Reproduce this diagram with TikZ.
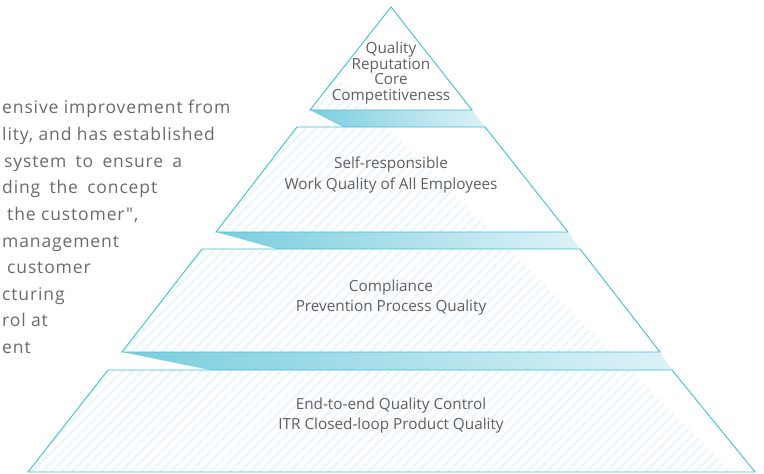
\documentclass[tikz,border=0pt]{standalone}
\usepackage{fontspec}
\setmainfont{Open Sans}
\newfontfamily\introfont[LetterSpace=5]{Open Sans}
\usetikzlibrary{patterns.meta}
\definecolor{edgecyan}{HTML}{3DBFD8}
\definecolor{banddark}{HTML}{7ACDDE}
\definecolor{bandlight}{HTML}{DDF2F7}
\definecolor{hatchcyan}{HTML}{EAF6FA}
\definecolor{labelgray}{HTML}{5F5F5F}
\definecolor{introgray}{HTML}{6A6A6A}

\begin{document}
\begin{tikzpicture}
          [x=1pt, y=-1pt,
          layer/.style={draw=edgecyan, line width=0.9pt, line join=miter},
          hatch/.style={pattern={Lines[angle=45,distance=7pt,line width=2.2pt]}, pattern color=hatchcyan},
          band/.style={left color=banddark, right color=bandlight, draw=none},
          label/.style={text=labelgray, font=\fontsize{15.3}{18}\selectfont, align=center, inner sep=0pt},
          intro/.style={text=introgray, font=\introfont\fontsize{17.5}{20}\selectfont, anchor=base west, inner sep=0pt}]

          \useasboundingbox (0,0) rectangle (764,474);

          % corners of the layers
          \coordinate (apex) at (391,7);
          \coordinate (topl) at (310,110);   \coordinate (topr) at (472,110);
          \coordinate (sndtl) at (297,127);  \coordinate (sndtr) at (485,127);
          \coordinate (sndbl) at (216,232);  \coordinate (sndbr) at (568,232);
          \coordinate (thdtl) at (202,249);  \coordinate (thdtr) at (580,249);
          \coordinate (thdbl) at (122,352);  \coordinate (thdbr) at (660,352);
          \coordinate (bottl) at (108,370);  \coordinate (bottr) at (672,370);
          \coordinate (botbl) at (28,472);   \coordinate (botbr) at (755,472);

          % shadow bands between the layers
          \path[band] (topl) -- (topr) -- (sndtr) -- (343,127) -- cycle;
          \path[band] (sndbl) -- (sndbr) -- (thdtr) -- (277,249) -- cycle;
          \path[band] (thdbl) -- (thdbr) -- (bottr) -- (210,370) -- cycle;

          % faint hatching, only on the lower left side
          \begin{scope}
              \clip (0,0) -- (260,0) -- (734,474) -- (0,474) -- cycle;
              \fill[hatch] (apex) -- (topr) -- (topl) -- cycle;
              \fill[hatch] (sndtl) -- (sndtr) -- (sndbr) -- (sndbl) -- cycle;
              \fill[hatch] (thdtl) -- (thdtr) -- (thdbr) -- (thdbl) -- cycle;
              \fill[hatch] (bottl) -- (bottr) -- (botbr) -- (botbl) -- cycle;
          \end{scope}

          % pyramid layers
          \draw[layer] (apex) -- (topr) -- (topl) -- cycle;
          \draw[layer] (sndtl) -- (sndtr) -- (sndbr) -- (sndbl) -- cycle;
          \draw[layer] (thdtl) -- (thdtr) -- (thdbr) -- (thdbl) -- cycle;
          \draw[layer] (bottl) -- (bottr) -- (botbr) -- (botbl) -- cycle;

          % layer texts
          \node[label] (reputation) at (391,73) {Quality\\[-2.5pt]Reputation\\[-2.5pt]Core\\[-2.5pt]Competitiveness};
          \node[label] (selfresp) at (391,175) {Self-responsible\\[3pt]Work Quality of All Employees};
          \node[label] (compliance) at (391,298) {Compliance\\[2pt]Prevention Process Quality};
          \node[label] (endtoend) at (391,416) {End-to-end Quality Control\\[2pt]ITR Closed-loop Product Quality};

          % cut-off introduction on the left
          \node[intro] (introa) at (2,113) {ensive improvement from};
          \node[intro] (introb) at (2,140) {lity, and has established};
          \node[intro] (introc) at (4,167) {\makebox[178pt][s]{system to ensure a}};
          \node[intro] (introd) at (2,193) {\makebox[155pt][s]{ding the concept}};
          \node[intro] (introe) at (7,220) {the customer",};
          \node[intro] (introf) at (2,247) {management};
          \node[intro] (introg) at (7,273) {customer};
          \node[intro] (introh) at (2,300) {cturing};
          \node[intro] (introi) at (2,326) {rol at};
          \node[intro] (introj) at (2,353) {ent};
\end{tikzpicture}
\end{document}
